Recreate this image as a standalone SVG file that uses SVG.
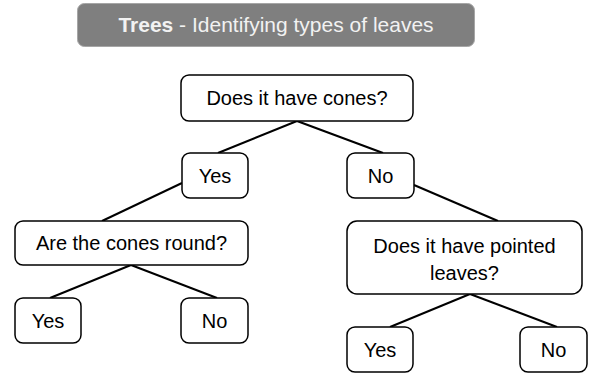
<svg xmlns="http://www.w3.org/2000/svg" width="589" height="373" viewBox="0 0 589 373">
<style>
.box{fill:#fff;stroke:#000;stroke-width:1.5}
.t{font-family:"Liberation Sans",Arial,sans-serif;font-size:20px;fill:#000;text-anchor:middle}
.ln{stroke:#000;stroke-width:2;fill:none}
.title{font-family:"Liberation Sans",Arial,sans-serif;font-size:21px;fill:#f2f2f2;text-anchor:middle}
</style>
<rect width="589" height="373" fill="#fff"/>
<g id="title">
<rect x="77.5" y="3.5" width="397" height="43" rx="7" fill="#7f7f7f" stroke="#a6a6a6" stroke-width="1"/>
<text class="title" x="276" y="32"><tspan font-weight="bold">Trees</tspan> - Identifying types of leaves</text>
</g>
<g id="connectors">
<line class="ln" x1="297" y1="121" x2="218" y2="153"/>
<line class="ln" x1="297" y1="121" x2="383" y2="153"/>
<line class="ln" x1="182" y1="183" x2="102" y2="221"/>
<line class="ln" x1="414" y1="185" x2="498" y2="221"/>
<line class="ln" x1="131" y1="265" x2="50" y2="298"/>
<line class="ln" x1="131" y1="265" x2="217" y2="298"/>
<line class="ln" x1="470" y1="294" x2="390" y2="327"/>
<line class="ln" x1="470" y1="294" x2="557" y2="327"/>
</g>
<g id="n-cones">
<rect class="box" x="181" y="75" width="232" height="46" rx="8"/>
<text class="t" x="297" y="105">Does it have cones?</text>
</g>
<g id="n-yes1">
<rect class="box" x="182" y="153" width="66" height="45" rx="8"/>
<text class="t" x="215" y="183">Yes</text>
</g>
<g id="n-no1">
<rect class="box" x="347" y="153" width="67" height="45" rx="8"/>
<text class="t" x="380.5" y="183">No</text>
</g>
<g id="n-round">
<rect class="box" x="15" y="221" width="233" height="44" rx="8"/>
<text class="t" x="131.5" y="250">Are the cones round?</text>
</g>
<g id="n-pointed">
<rect class="box" x="347" y="221" width="235" height="73" rx="10"/>
<text class="t" x="464.5" y="253">Does it have pointed</text>
<text class="t" x="464.5" y="280">leaves?</text>
</g>
<g id="n-yes2">
<rect class="box" x="15" y="298" width="66" height="45" rx="8"/>
<text class="t" x="48" y="328">Yes</text>
</g>
<g id="n-no2">
<rect class="box" x="181" y="298" width="67" height="45" rx="8"/>
<text class="t" x="214.5" y="328">No</text>
</g>
<g id="n-yes3">
<rect class="box" x="347" y="327" width="66" height="45" rx="8"/>
<text class="t" x="380" y="357">Yes</text>
</g>
<g id="n-no3">
<rect class="box" x="520" y="327" width="67" height="45" rx="8"/>
<text class="t" x="553.5" y="357">No</text>
</g>
</svg>
